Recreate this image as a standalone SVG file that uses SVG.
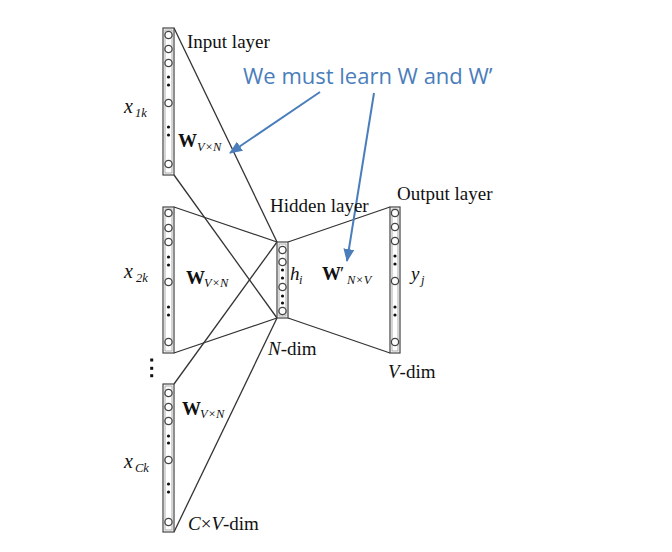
<svg xmlns="http://www.w3.org/2000/svg" width="672" height="552" viewBox="0 0 672 552">
<style>
.col{fill:#fff;stroke:#444;stroke-width:1.2}
.inner{fill:none;stroke:#999;stroke-width:0.8}
.n{fill:#fff;stroke:#444;stroke-width:1.3}
.d{fill:#111}
.edge{stroke:#333;stroke-width:1.3;fill:none}
.t{font-family:"Liberation Serif",serif;font-size:19px;fill:#111}
.x{font-size:20px}
.i{font-style:italic}
.b{font-weight:bold}
.s{font-family:"Liberation Serif",serif;font-size:12.5px;font-style:italic;fill:#111}
.blue{font-family:"Open Sans",sans-serif;font-size:22px;fill:#4a7ebb}
.arr{stroke:#4a7ebb;stroke-width:2;fill:none}
</style>
<defs>
<marker id="ah" markerUnits="userSpaceOnUse" markerWidth="13" markerHeight="11" refX="12" refY="5.5" orient="auto" viewBox="0 0 13 11">
<path d="M0,0 L13,5.5 L0,11 z" fill="#4a7ebb"/>
</marker>
</defs>
<rect width="672" height="552" fill="#fff"/>
<g id="connectors">
<line class="edge" x1="174" y1="28" x2="277" y2="242"/>
<line class="edge" x1="174" y1="175" x2="277" y2="318"/>
<line class="edge" x1="174" y1="207" x2="277" y2="242"/>
<line class="edge" x1="174" y1="353" x2="277" y2="318"/>
<line class="edge" x1="174" y1="384" x2="277" y2="242"/>
<line class="edge" x1="174" y1="532" x2="277" y2="318"/>
<line class="edge" x1="288" y1="242" x2="390" y2="207"/>
<line class="edge" x1="288" y1="318" x2="390" y2="353"/>
<line class="arr" x1="320" y1="92" x2="230" y2="153" marker-end="url(#ah)"/>
<line class="arr" x1="374" y1="93" x2="347" y2="261" marker-end="url(#ah)"/>
</g>
<g id="input1">
<rect class="col" x="163" y="28" width="11" height="147"/>
<rect class="inner" x="165" y="30" width="7" height="143"/>
<circle class="n" cx="168.5" cy="35" r="3.6"/>
<circle class="n" cx="168.5" cy="49" r="3.6"/>
<circle class="n" cx="168.5" cy="63" r="3.6"/>
<circle class="d" cx="168.5" cy="77" r="1.6"/>
<circle class="d" cx="168.5" cy="85" r="1.6"/>
<circle class="n" cx="168.5" cy="103" r="3.6"/>
<circle class="d" cx="168.5" cy="127" r="1.6"/>
<circle class="d" cx="168.5" cy="135" r="1.6"/>
<circle class="n" cx="168.5" cy="164" r="3.6"/>
<text class="t x i" x="124" y="113">x</text><text class="s" x="135" y="117">1k</text>
<text class="t b" x="178" y="147">W</text><text class="s" x="197" y="151">V×N</text>
<text class="t" x="187" y="48">Input layer</text>
</g>
<g id="input2">
<rect class="col" x="163" y="207" width="11" height="146"/>
<rect class="inner" x="165" y="209" width="7" height="142"/>
<circle class="n" cx="168.5" cy="213" r="3.6"/>
<circle class="n" cx="168.5" cy="228" r="3.6"/>
<circle class="n" cx="168.5" cy="242" r="3.6"/>
<circle class="d" cx="168.5" cy="257" r="1.6"/>
<circle class="d" cx="168.5" cy="265" r="1.6"/>
<circle class="n" cx="168.5" cy="282" r="3.6"/>
<circle class="d" cx="168.5" cy="307" r="1.6"/>
<circle class="d" cx="168.5" cy="315" r="1.6"/>
<circle class="n" cx="168.5" cy="342" r="3.6"/>
<text class="t x i" x="124" y="278">x</text><text class="s" x="136" y="282">2k</text>
<text class="t b" x="186" y="284">W</text><text class="s" x="204" y="287">V×N</text>
</g>
<g id="ellipsis">
<rect class="d" x="150.2" y="358.5" width="3" height="3"/>
<rect class="d" x="150.2" y="366.8" width="3" height="3"/>
<rect class="d" x="150.2" y="374.2" width="3" height="3"/>
</g>
<g id="inputC">
<rect class="col" x="163" y="384" width="11" height="148"/>
<rect class="inner" x="165" y="386" width="7" height="144"/>
<circle class="n" cx="168.5" cy="393" r="3.6"/>
<circle class="n" cx="168.5" cy="407" r="3.6"/>
<circle class="n" cx="168.5" cy="421" r="3.6"/>
<circle class="d" cx="168.5" cy="436" r="1.6"/>
<circle class="d" cx="168.5" cy="443" r="1.6"/>
<circle class="n" cx="168.5" cy="460" r="3.6"/>
<circle class="d" cx="168.5" cy="484" r="1.6"/>
<circle class="d" cx="168.5" cy="492" r="1.6"/>
<circle class="n" cx="168.5" cy="522" r="3.6"/>
<text class="t x i" x="124" y="468">x</text><text class="s" x="135" y="472">Ck</text>
<text class="t b" x="182" y="415">W</text><text class="s" x="200" y="418">V×N</text>
<text class="t" x="188" y="530"><tspan class="i">C</tspan>×<tspan class="i">V</tspan>-dim</text>
</g>
<g id="hidden">
<rect class="col" x="277" y="242" width="11" height="76"/>
<rect class="inner" x="279" y="244" width="7" height="72"/>
<circle class="n" cx="282.5" cy="250" r="3.6"/>
<circle class="n" cx="282.5" cy="262" r="3.6"/>
<circle class="d" cx="282.5" cy="270" r="1.6"/>
<circle class="d" cx="282.5" cy="278" r="1.6"/>
<circle class="n" cx="282.5" cy="287" r="3.6"/>
<circle class="d" cx="282.5" cy="296" r="1.6"/>
<circle class="d" cx="282.5" cy="303" r="1.6"/>
<circle class="n" cx="282.5" cy="311" r="3.6"/>
<text class="t i" x="290" y="280">h</text><text class="s" x="299" y="284">i</text>
<text class="t" x="270" y="212">Hidden layer</text>
<text class="t" x="268" y="355"><tspan class="i">N</tspan>-dim</text>
</g>
<g id="output">
<rect class="col" x="390" y="207" width="10" height="146"/>
<rect class="inner" x="392" y="209" width="6" height="142"/>
<circle class="n" cx="395" cy="213" r="3.6"/>
<circle class="n" cx="395" cy="227" r="3.6"/>
<circle class="n" cx="395" cy="241" r="3.6"/>
<circle class="d" cx="395" cy="256" r="1.6"/>
<circle class="d" cx="395" cy="264" r="1.6"/>
<circle class="n" cx="395" cy="281" r="3.6"/>
<circle class="d" cx="395" cy="307" r="1.6"/>
<circle class="d" cx="395" cy="315" r="1.6"/>
<circle class="n" cx="395" cy="342" r="3.6"/>
<text class="t i" x="411" y="280">y</text><text class="s" x="421" y="284">j</text>
<text class="t" x="397" y="200">Output layer</text>
<text class="t" x="388" y="378"><tspan class="i">V</tspan>-dim</text>
</g>
<g id="weights2">
<text class="t b" x="322" y="280">W</text><text class="t" x="340" y="280">′</text><text class="s" x="347" y="284">N×V</text>
</g>
<g id="note">
<text class="blue" x="243" y="84">We must learn W and W’</text>
</g>
</svg>
